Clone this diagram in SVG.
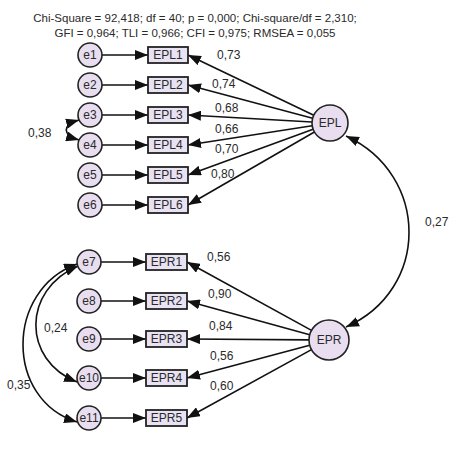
<svg xmlns="http://www.w3.org/2000/svg" width="466" height="458" viewBox="0 0 466 458">
<defs>
<marker id="ah" markerUnits="userSpaceOnUse" markerWidth="14" markerHeight="10" refX="13" refY="5" orient="auto-start-reverse"><path d="M0,0 L13,5 L0,10 Z" fill="#111"/></marker>
<style>
.c{fill:#E8DEF0;stroke:#222;stroke-width:1.6}
.b{fill:#E8E2F2;stroke:#222;stroke-width:1.8}
.t{font-family:"Liberation Sans",Arial,sans-serif;font-size:12px;fill:#2a2a2a;text-anchor:middle}
.l{font-family:"Liberation Sans",Arial,sans-serif;font-size:12px;fill:#2a2a2a}
.h{font-family:"Liberation Sans",Arial,sans-serif;font-size:11.5px;fill:#2a2a2a;text-anchor:middle}
.a{fill:none;stroke:#111;stroke-width:1.6;marker-end:url(#ah)}
.d{fill:none;stroke:#111;stroke-width:1.6;marker-end:url(#ah);marker-start:url(#ah)}
</style>
</defs>
<rect width="466" height="458" fill="#fff"/>
<text class="h" x="195" y="22">Chi-Square = 92,418; df = 40; p = 0,000; Chi-square/df = 2,310;</text>
<text class="h" x="195" y="37">GFI = 0,964; TLI = 0,966; CFI = 0,975; RMSEA = 0,055</text>
<g id="connectors">
<path class="a" d="M102,55 H148"/>
<path class="a" d="M102,85 H148"/>
<path class="a" d="M102,115 H148"/>
<path class="a" d="M102,145 H148"/>
<path class="a" d="M102,175 H148"/>
<path class="a" d="M102,205 H148"/>
<path class="a" d="M313.8,115.2 L188,55"/>
<path class="a" d="M312.6,118.3 L188,85"/>
<path class="a" d="M312,122 L188,115"/>
<path class="a" d="M312.2,125.8 L188,145"/>
<path class="a" d="M313.1,129.2 L188,175"/>
<path class="a" d="M314.4,132 L188,205"/>
<path class="a" d="M101,262 H146"/>
<path class="a" d="M101,301 H146"/>
<path class="a" d="M101,339 H146"/>
<path class="a" d="M101,378 H146"/>
<path class="a" d="M101,418 H146"/>
<path class="a" d="M311.5,330.4 L187,262"/>
<path class="a" d="M309.7,334.7 L187,301"/>
<path class="a" d="M309,339.9 L187,339"/>
<path class="a" d="M309.7,345.2 L187,378"/>
<path class="a" d="M311.5,349.6 L187,418"/>
<path class="d" d="M346,136 C430,175 430,290 346,327"/>
<path class="d" d="M79,120 C62,125 62,135 79,140"/>
<path class="d" d="M78,266 C22,290 22,360 77,382"/>
<path class="d" d="M77,264 C5,290 5,400 77,422"/>
</g>
<g class="l">
<text x="217" y="59">0,73</text>
<text x="212" y="88">0,74</text>
<text x="215" y="112">0,68</text>
<text x="215" y="133">0,66</text>
<text x="215" y="153">0,70</text>
<text x="211" y="178">0,80</text>
<text x="207" y="261">0,56</text>
<text x="208" y="298">0,90</text>
<text x="209" y="330">0,84</text>
<text x="210" y="360">0,56</text>
<text x="210" y="390">0,60</text>
<text x="425" y="226">0,27</text>
<text x="28" y="137">0,38</text>
<text x="44" y="332">0,24</text>
<text x="7" y="389">0,35</text>
</g>
<g id="e1"><circle class="c" cx="90" cy="55" r="12"/><text class="t" x="90" y="59">e1</text></g>
<g id="e2"><circle class="c" cx="90" cy="85" r="12"/><text class="t" x="90" y="89">e2</text></g>
<g id="e3"><circle class="c" cx="90" cy="115" r="12"/><text class="t" x="90" y="119">e3</text></g>
<g id="e4"><circle class="c" cx="90" cy="145" r="12"/><text class="t" x="90" y="149">e4</text></g>
<g id="e5"><circle class="c" cx="90" cy="175" r="12"/><text class="t" x="90" y="179">e5</text></g>
<g id="e6"><circle class="c" cx="90" cy="205" r="12"/><text class="t" x="90" y="209">e6</text></g>
<g id="EPL1"><rect class="b" x="148" y="47" width="40" height="16"/><text class="t" x="168" y="59">EPL1</text></g>
<g id="EPL2"><rect class="b" x="148" y="77" width="40" height="16"/><text class="t" x="168" y="89">EPL2</text></g>
<g id="EPL3"><rect class="b" x="148" y="107" width="40" height="16"/><text class="t" x="168" y="119">EPL3</text></g>
<g id="EPL4"><rect class="b" x="148" y="137" width="40" height="16"/><text class="t" x="168" y="149">EPL4</text></g>
<g id="EPL5"><rect class="b" x="148" y="167" width="40" height="16"/><text class="t" x="168" y="179">EPL5</text></g>
<g id="EPL6"><rect class="b" x="148" y="197" width="40" height="16"/><text class="t" x="168" y="209">EPL6</text></g>
<g id="EPL"><circle class="c" cx="330" cy="123" r="18"/><text class="t" x="330" y="127">EPL</text></g>
<g id="e7"><circle class="c" cx="89" cy="262" r="12"/><text class="t" x="89" y="266">e7</text></g>
<g id="e8"><circle class="c" cx="89" cy="301" r="12"/><text class="t" x="89" y="305">e8</text></g>
<g id="e9"><circle class="c" cx="89" cy="339" r="12"/><text class="t" x="89" y="343">e9</text></g>
<g id="e10"><circle class="c" cx="89" cy="378" r="12"/><text class="t" x="89" y="382">e10</text></g>
<g id="e11"><circle class="c" cx="89" cy="418" r="12"/><text class="t" x="89" y="422">e11</text></g>
<g id="EPR1"><rect class="b" x="146" y="254" width="41" height="16"/><text class="t" x="166.5" y="266">EPR1</text></g>
<g id="EPR2"><rect class="b" x="146" y="293" width="41" height="16"/><text class="t" x="166.5" y="305">EPR2</text></g>
<g id="EPR3"><rect class="b" x="146" y="331" width="41" height="16"/><text class="t" x="166.5" y="343">EPR3</text></g>
<g id="EPR4"><rect class="b" x="146" y="370" width="41" height="16"/><text class="t" x="166.5" y="382">EPR4</text></g>
<g id="EPR5"><rect class="b" x="146" y="410" width="41" height="16"/><text class="t" x="166.5" y="422">EPR5</text></g>
<g id="EPR"><circle class="c" cx="329" cy="340" r="20"/><text class="t" x="329" y="344">EPR</text></g>
</svg>
